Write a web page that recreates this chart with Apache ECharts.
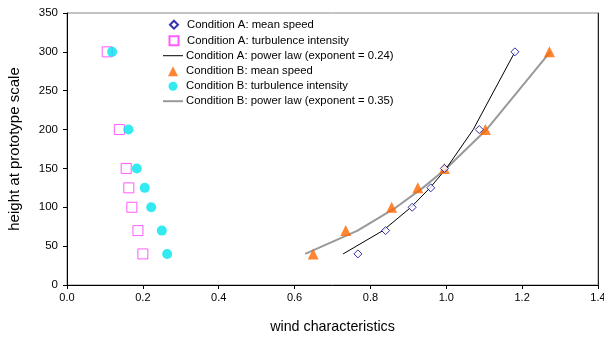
<!DOCTYPE html>
<html><head><meta charset="utf-8">
<script src="https://cdn.jsdelivr.net/npm/echarts@6/dist/echarts.min.js"></script>
<style>html,body{margin:0;padding:0;background:#fff}#c{width:604px;height:337px}</style>
</head><body><div id="c"></div>
<script>
const heights = [40, 70, 100, 125, 150, 200, 300];
const aMeanSpeed = [0.767, 0.840, 0.910, 0.959, 0.995, 1.087, 1.181];
const aTurbulence = [0.200, 0.187, 0.171, 0.163, 0.156, 0.138, 0.106];
const aPowerLaw = [0.728, 0.833, 0.907, 0.957, 1.000, 1.071, 1.181];
const bMeanSpeed = [0.649, 0.735, 0.856, 0.925, 0.995, 1.103, 1.272];
const bTurbulence = [0.264, 0.250, 0.222, 0.205, 0.184, 0.162, 0.119];
const bPowerLaw = [0.628, 0.766, 0.868, 0.938, 1.000, 1.106, 1.274];
const seriesNames = [
  'Condition A: mean speed',
  'Condition A: turbulence intensity',
  'Condition A: power law (exponent = 0.24)',
  'Condition B: mean speed',
  'Condition B: turbulence intensity',
  'Condition B: power law (exponent = 0.35)'
];
const pts = xs => xs.map((x, i) => [x, heights[i]]);
const font = 'Liberation Sans, Arial, sans-serif';
const textX = 186;
const iconCX = 173;
// legend rows: [icon, width, height, centerY, isLine]
const legendRows = [
  ['diamond', 8, 8, 24, false],
  ['rect', 9, 9, 40, false],
  ['rect', 20, 1, 55, true],
  ['triangle', 10, 10, 70.5, false],
  ['circle', 9, 9, 85.5, false],
  ['rect', 20, 2, 100.5, true]
];
const legends = legendRows.map((r, i) => {
  const left = r[4] ? 163 : iconCX - r[1] / 2;
  const gap = textX - (left + r[1]) - 5;
  return {
    orient: 'vertical', padding: 0,
    left: left, top: r[3] - 4.8,
    itemWidth: r[1], itemHeight: r[2], selectedMode: false,
    textStyle: {fontFamily: font, fontSize: 11.3, color: '#000', padding: [0, 0, 0, gap]},
    data: [{name: seriesNames[i], icon: r[0]}]
  };
});
const chart = echarts.init(document.getElementById('c'), null, {renderer: 'canvas'});
chart.setOption({
  animation: false,
  backgroundColor: '#fff',
  grid: {left: 67, right: 6, top: 13, bottom: 52, outerBoundsMode: 'none', containLabel: false,
         show: true, borderColor: '#888', borderWidth: 1},
  legend: legends,
  xAxis: {
    type: 'value', min: 0, max: 1.4, interval: 0.2,
    name: 'wind characteristics', nameLocation: 'middle', nameGap: 35,
    nameTextStyle: {fontFamily: font, fontSize: 14.3, color: '#000'},
    axisLine: {lineStyle: {color: '#000', width: 1}},
    axisTick: {show: true, inside: false, length: 4, lineStyle: {color: '#000'}},
    axisLabel: {fontFamily: font, fontSize: 11, color: '#000', margin: 7, formatter: v => v.toFixed(1)},
    splitLine: {show: false}
  },
  yAxis: [{
    type: 'value', min: 0, max: 350, interval: 50,
    name: 'height at prototype scale', nameLocation: 'middle', nameGap: 45,
    nameTextStyle: {fontFamily: font, fontSize: 15, color: '#000'},
    axisLine: {show: true, lineStyle: {color: '#000', width: 1}},
    axisTick: {show: true, inside: false, length: 4, lineStyle: {color: '#000'}},
    axisLabel: {fontFamily: font, fontSize: 11.5, color: '#000', margin: 9},
    splitLine: {show: false}
  }, {
    type: 'value', min: 0, max: 350, interval: 50, position: 'right',
    axisLine: {show: true, lineStyle: {color: '#222', width: 1}},
    axisTick: {show: false}, axisLabel: {show: false}, splitLine: {show: false}
  }],
  series: [
    {name: seriesNames[0], type: 'scatter', data: pts(aMeanSpeed), symbol: 'diamond', symbolSize: 8,
     itemStyle: {color: '#fff', borderColor: '#000099', borderWidth: 1}, z: 5},
    {name: seriesNames[1], type: 'scatter', data: pts(aTurbulence), symbol: 'rect', symbolSize: 10,
     itemStyle: {color: '#fff', borderColor: '#ff33ff', borderWidth: 1}, z: 3},
    {name: seriesNames[2], type: 'line', data: pts(aPowerLaw), symbol: 'none', showSymbol: false,
     lineStyle: {color: '#000', width: 1}, itemStyle: {color: '#000'}, z: 2},
    {name: seriesNames[3], type: 'scatter', data: pts(bMeanSpeed), symbol: 'triangle', symbolSize: 11,
     itemStyle: {color: '#ff6600'}, z: 4},
    {name: seriesNames[4], type: 'scatter', data: pts(bTurbulence), symbol: 'circle', symbolSize: 10,
     itemStyle: {color: '#00e5ee'}, z: 4},
    {name: seriesNames[5], type: 'line', data: pts(bPowerLaw), symbol: 'none', showSymbol: false,
     lineStyle: {color: '#999', width: 2}, itemStyle: {color: '#999'}, z: 1}
  ]
});
</script></body></html>
